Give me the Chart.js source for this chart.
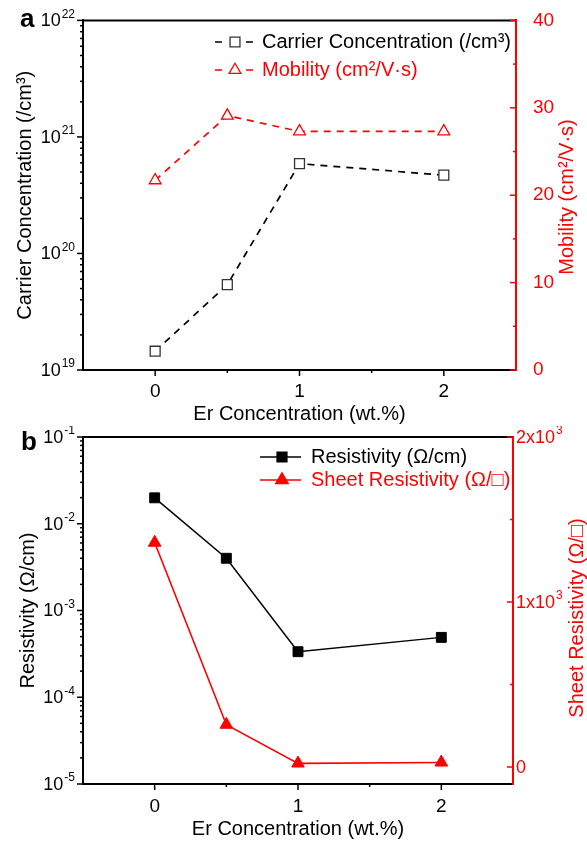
<!DOCTYPE html>
<html lang="en">
<head>
<meta charset="UTF-8">
<title>Er concentration</title>
<script src="https://cdn.jsdelivr.net/npm/chart.js"></script>
<style>
  body { margin: 0; background: #fff; }
  .panel { position: absolute; left: 0; width: 587px; }
  #panelA { top: 0; height: 426px; }
  #panelB { top: 426px; height: 416px; }
</style>
</head>
<body>
<div class="panel" id="panelA"><canvas id="chartA"></canvas></div>
<div class="panel" id="panelB"><canvas id="chartB"></canvas></div>
<script>
// data
const erContent = [0, 0.5, 1, 2];
const carrierConc = [1.45e19, 5.4e19, 5.9e20, 4.7e20];
const mobility = [21.7, 29.1, 27.3, 27.3];
const resistivity = [0.0199, 0.0040, 3.35e-4, 4.9e-4];
const sheetRes = [1360, 257, 22, 28];

// ticks
const xTicks = [0, 0.5, 1, 1.5, 2];
const concDecades = [19, 20, 21, 22];
const mobilityTicks = [0, 5, 10, 15, 20, 25, 30, 35, 40];
const resDecades = [-5, -4, -3, -2, -1];
const sheetTicks = [0, 500, 1000, 1500, 2000];
const sheetLabels = ['0', '', '1x10^3', '', '2x10^3'];

const FONT = "'Liberation Sans', Arial, sans-serif";
const RED = '#ff0000';
Chart.defaults.font.family = FONT;
Chart.defaults.color = '#000';

function logTicks(decades) {
  const out = [];
  const last = decades[decades.length - 1];
  for (let d = decades[0]; d < last; d++) {
    for (let k = 1; k < 10; k++) out.push(k * Math.pow(10, d));
  }
  out.push(Math.pow(10, last));
  return out;
}
const isDecade = v => Math.abs(Math.log10(v) - Math.round(Math.log10(v))) < 1e-9;
const pts = (xs, ys) => xs.map((x, i) => ({ x: x, y: ys[i] }));
const setTicks = arr => scale => { scale.ticks = arr.map(v => ({ value: v })); };

// "10^22" -> 10 with a raised exponent
function drawPow(ctx, text, x, y, align, color) {
  const parts = text.split('^');
  ctx.font = '18px ' + FONT;
  const wb = ctx.measureText(parts[0]).width;
  ctx.font = '12px ' + FONT;
  const we = parts[1] ? ctx.measureText(parts[1]).width + 1 : 0;
  const x0 = align === 'right' ? x - wb - we : x;
  ctx.fillStyle = color;
  ctx.textAlign = 'left';
  ctx.textBaseline = 'middle';
  ctx.font = '18px ' + FONT;
  ctx.fillText(parts[0], x0, y + 1);
  if (parts[1]) {
    ctx.font = '12px ' + FONT;
    ctx.fillText(parts[1], x0 + wb + 1, y - 6);
  }
}

function marker(ctx, style, x, y, r) {
  ctx.beginPath();
  if (style === 'rect') {
    const s = r * Math.SQRT1_2;
    ctx.rect(x - s, y - s, 2 * s, 2 * s);
  } else {
    ctx.moveTo(x, y - r);
    ctx.lineTo(x + r * 0.866, y + r * 0.5);
    ctx.lineTo(x - r * 0.866, y + r * 0.5);
    ctx.closePath();
  }
  ctx.fill();
  ctx.stroke();
}

// frame, tick marks, superscript labels, right title, legend, panel letter
function makeDecor(cfg) {
  return {
    id: 'decor',
    afterDraw(chart) {
      const ctx = chart.ctx;
      const area = chart.chartArea;
      ctx.save();
      ctx.strokeStyle = '#000';
      ctx.lineWidth = 2;
      ctx.beginPath();
      ctx.moveTo(area.left - 1, area.top);
      ctx.lineTo(area.right, area.top);
      ctx.stroke();

      cfg.marks.forEach(m => {
        const scale = chart.scales[m.id];
        ctx.strokeStyle = m.color;
        ctx.lineWidth = 1.5;
        scale.ticks.forEach(t => {
          const p = scale.getPixelForValue(t.value);
          const len = m.major(t.value) ? 6 : 3;
          ctx.beginPath();
          if (m.side === 'bottom') { ctx.moveTo(p, area.bottom); ctx.lineTo(p, area.bottom + len); }
          else if (m.side === 'left') { ctx.moveTo(area.left, p); ctx.lineTo(area.left - len, p); }
          else { ctx.moveTo(area.right, p); ctx.lineTo(area.right - len, p); }
          ctx.stroke();
        });
      });

      cfg.powLabels.forEach(l => {
        const scale = chart.scales[l.id];
        l.values.forEach((v, i) => {
          if (!l.labels[i]) return;
          const y = scale.getPixelForValue(v);
          if (l.side === 'left') drawPow(ctx, l.labels[i], area.left - 8, y, 'right', l.color);
          else drawPow(ctx, l.labels[i], area.right + 3, y, 'left', l.color);
        });
      });

      const rt = cfg.rightTitle;
      ctx.save();
      ctx.translate(rt.x, rt.y);
      ctx.rotate(-Math.PI / 2);
      ctx.font = '20px ' + FONT;
      ctx.fillStyle = rt.color;
      ctx.textAlign = 'center';
      ctx.textBaseline = 'middle';
      ctx.fillText(rt.text, 0, 0);
      ctx.restore();

      const lg = cfg.legend;
      lg.rows.forEach(row => {
        ctx.strokeStyle = row.color;
        ctx.lineWidth = 1.6;
        ctx.setLineDash(lg.dash || []);
        ctx.beginPath();
        ctx.moveTo(lg.x0, row.y);
        ctx.lineTo(lg.x1, row.y);
        ctx.stroke();
        ctx.setLineDash([]);
        ctx.fillStyle = row.fill;
        ctx.strokeStyle = row.stroke;
        ctx.lineWidth = 1.3;
        marker(ctx, row.style, lg.mx, row.y, row.r);
        ctx.font = '20px ' + FONT;
        ctx.fillStyle = row.color;
        ctx.textAlign = 'left';
        ctx.textBaseline = 'middle';
        ctx.fillText(row.text, lg.tx, row.y);
      });

      ctx.font = 'bold 26px ' + FONT;
      ctx.fillStyle = '#000';
      ctx.textAlign = 'left';
      ctx.textBaseline = 'alphabetic';
      ctx.fillText(cfg.panel.text, cfg.panel.x, cfg.panel.y);
      ctx.restore();
    }
  };
}

function xScale(height, pad, titlePad) {
  return {
    type: 'linear', min: -0.5, max: 2.5,
    afterBuildTicks: setTicks(xTicks),
    afterFit: s => { s.height = height; },
    grid: { display: false },
    border: { color: '#000', width: 2 },
    ticks: { padding: pad, autoSkip: false, maxRotation: 0, font: { size: 19 },
      callback: v => Number.isInteger(v) ? String(v) : '' },
    title: { display: true, text: 'Er Concentration (wt.%)', font: { size: 20 }, padding: { top: 0, bottom: titlePad } }
  };
}

// panel a
new Chart(document.getElementById('chartA'), {
  type: 'line',
  data: {
    datasets: [
      { label: 'Carrier Concentration (/cm³)', data: pts(erContent, carrierConc), yAxisID: 'yL',
        borderColor: '#000', borderWidth: 1.7, borderDash: [7, 6],
        pointStyle: 'rect', pointRadius: 7, pointBorderColor: '#333', pointBackgroundColor: '#fff', pointBorderWidth: 1.3 },
      { label: 'Mobility (cm²/V·s)', data: pts(erContent, mobility), yAxisID: 'yR',
        borderColor: RED, borderWidth: 1.7, borderDash: [7, 6],
        pointStyle: 'triangle', pointRadius: 6.8, pointBorderColor: RED, pointBackgroundColor: '#fff', pointBorderWidth: 1.3 }
    ]
  },
  options: {
    responsive: true, maintainAspectRatio: false, animation: false, devicePixelRatio: 1,
    layout: { padding: { top: 20, left: 0, right: 0, bottom: 0 } },
    plugins: { legend: { display: false }, tooltip: { enabled: false } },
    scales: {
      x: xScale(56, 2, 0),
      yL: {
        type: 'logarithmic', position: 'left', min: 1e19, max: 1e22,
        afterBuildTicks: setTicks(logTicks(concDecades)),
        afterFit: s => { s.width = 83; },
        grid: { display: false },
        border: { color: '#000', width: 2 },
        ticks: { display: false },
        title: { display: true, text: 'Carrier Concentration (/cm³)', font: { size: 20 }, padding: { top: 13, bottom: 0 } }
      },
      yR: {
        type: 'linear', position: 'right', min: 0, max: 40,
        afterBuildTicks: setTicks(mobilityTicks),
        afterFit: s => { s.width = 71; },
        grid: { display: false },
        border: { color: RED, width: 2 },
        ticks: { color: RED, padding: 9, autoSkip: false, font: { size: 19 },
          callback: v => v % 10 === 0 ? String(v) : '' }
      }
    }
  },
  plugins: [makeDecor({
    panel: { text: 'a', x: 20, y: 27 },
    marks: [
      { id: 'x', side: 'bottom', color: '#000', major: v => Number.isInteger(v) },
      { id: 'yL', side: 'left', color: '#000', major: isDecade },
      { id: 'yR', side: 'right', color: RED, major: v => v % 10 === 0 }
    ],
    powLabels: [
      { id: 'yL', side: 'left', color: '#000', values: concDecades.map(d => Math.pow(10, d)), labels: concDecades.map(d => '10^' + d) }
    ],
    rightTitle: { text: 'Mobility (cm²/V·s)', x: 567, y: 197, color: RED },
    legend: {
      x0: 215, x1: 253, mx: 235, tx: 262, dash: [7, 24],
      rows: [
        { y: 42, color: '#000', style: 'rect', r: 7, fill: '#fff', stroke: '#333', text: 'Carrier Concentration (/cm³)' },
        { y: 70, color: RED, style: 'triangle', r: 6.8, fill: '#fff', stroke: RED, text: 'Mobility (cm²/V·s)' }
      ]
    }
  })]
});

// panel b
new Chart(document.getElementById('chartB'), {
  type: 'line',
  data: {
    datasets: [
      { label: 'Resistivity (Ω/cm)', data: pts(erContent, resistivity), yAxisID: 'yL',
        borderColor: '#000', borderWidth: 1.5,
        pointStyle: 'rect', pointRadius: 7, pointBorderColor: '#000', pointBackgroundColor: '#000', pointBorderWidth: 1 },
      { label: 'Sheet Resistivity (Ω/□)', data: pts(erContent, sheetRes), yAxisID: 'yR',
        borderColor: RED, borderWidth: 1.5,
        pointStyle: 'triangle', pointRadius: 7.3, pointBorderColor: RED, pointBackgroundColor: RED, pointBorderWidth: 1 }
    ]
  },
  options: {
    responsive: true, maintainAspectRatio: false, animation: false, devicePixelRatio: 1,
    layout: { padding: { top: 11, left: 0, right: 0, bottom: 0 } },
    plugins: { legend: { display: false }, tooltip: { enabled: false } },
    scales: {
      x: xScale(58, 3, 1),
      yL: {
        type: 'logarithmic', position: 'left', min: 1e-5, max: 1e-1,
        afterBuildTicks: setTicks(logTicks(resDecades)),
        afterFit: s => { s.width = 83; },
        grid: { display: false },
        border: { color: '#000', width: 2 },
        ticks: { display: false },
        title: { display: true, text: 'Resistivity (Ω/cm)', font: { size: 20 }, padding: { top: 16, bottom: 0 } }
      },
      yR: {
        type: 'linear', position: 'right', min: -103, max: 2000,
        afterBuildTicks: setTicks(sheetTicks),
        afterFit: s => { s.width = 74; },
        grid: { display: false },
        border: { color: RED, width: 2 },
        ticks: { display: false }
      }
    }
  },
  plugins: [makeDecor({
    panel: { text: 'b', x: 21, y: 24 },
    marks: [
      { id: 'x', side: 'bottom', color: '#000', major: v => Number.isInteger(v) },
      { id: 'yL', side: 'left', color: '#000', major: isDecade },
      { id: 'yR', side: 'right', color: RED, major: v => v % 1000 === 0 }
    ],
    powLabels: [
      { id: 'yL', side: 'left', color: '#000', values: resDecades.map(d => Math.pow(10, d)), labels: resDecades.map(d => '10^' + d) },
      { id: 'yR', side: 'right', color: RED, values: sheetTicks, labels: sheetLabels }
    ],
    rightTitle: { text: 'Sheet Resistivity (Ω/□)', x: 577, y: 192, color: RED },
    legend: {
      x0: 260, x1: 301, mx: 282, tx: 311,
      rows: [
        { y: 31, color: '#000', style: 'rect', r: 7, fill: '#000', stroke: '#000', text: 'Resistivity (Ω/cm)' },
        { y: 54, color: RED, style: 'triangle', r: 7.3, fill: RED, stroke: RED, text: 'Sheet Resistivity (Ω/□)' }
      ]
    }
  })]
});
</script>
</body>
</html>
